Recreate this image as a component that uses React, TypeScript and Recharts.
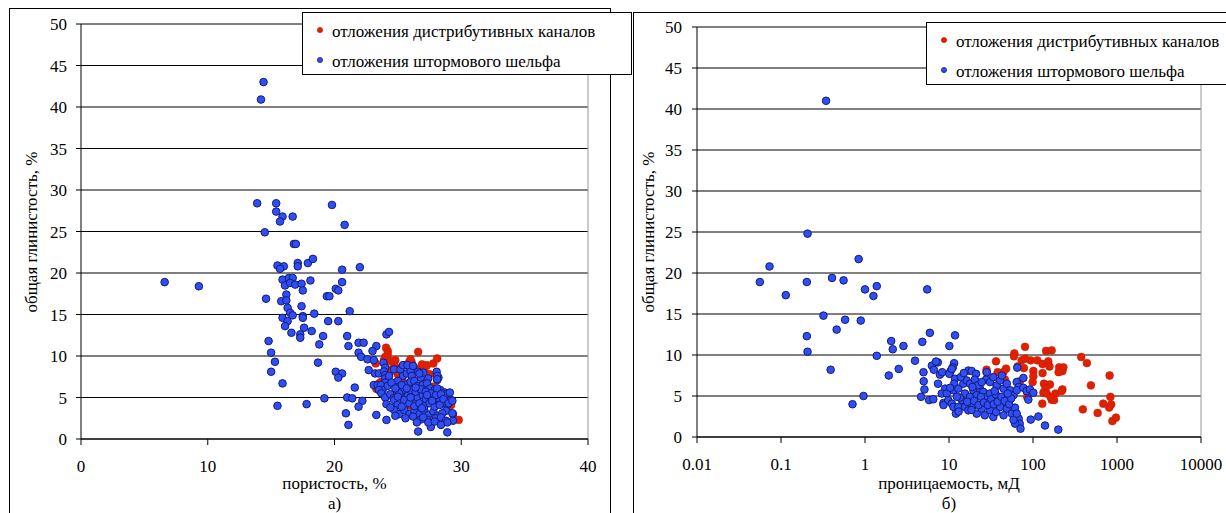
import React from 'react';
import { ScatterChart, Scatter, XAxis, YAxis, CartesianGrid, ReferenceLine } from 'recharts';

const FONT = '"Liberation Serif", Tinos, "Times New Roman", "DejaVu Serif", serif';

// а) пористость vs глинистость
const porosityChannels: number[][] = [
  [24.07, 11.0], [24.2, 10.6], [24.2, 10.2], [24.0, 9.9], [23.9, 9.5], [24.4, 9.4], [24.8, 9.5], [24.7, 9.3],
  [25.9, 9.3], [26.1, 9.2], [25.6, 8.9], [26.0, 9.6], [26.6, 10.5], [26.9, 8.6], [27.1, 8.3], [27.8, 9.1],
  [28.1, 9.7], [23.3, 6.05], [23.5, 6.7], [23.7, 6.9], [23.4, 6.3], [23.25, 9.1], [24.3, 7.5], [24.6, 8.5],
  [24.8, 8.7], [24.4, 8.1], [25.0, 7.8], [25.3, 7.2], [26.3, 8.6], [26.9, 9.0], [27.3, 8.9], [27.5, 7.8],
  [29.2, 4.1], [29.8, 2.3], [25.5, 6.4], [26.2, 6.2], [27.0, 6.8], [27.7, 6.3], [28.3, 5.7], [28.7, 4.6],
  [29.0, 3.6], [24.9, 5.3], [26.0, 4.0],
];

const porosityShelf: number[][] = [
  [14.4, 43.0], [14.2, 40.9], [13.9, 28.4], [15.4, 28.4], [15.4, 27.4], [15.9, 26.8], [15.7, 26.2], [16.7, 26.8],
  [19.8, 28.2], [20.8, 25.8], [14.5, 24.9], [16.8, 23.5], [16.95, 23.5], [15.5, 20.9], [16.0, 20.8], [15.7, 20.5],
  [17.1, 21.2], [17.1, 20.8], [17.9, 21.2], [18.3, 21.7], [20.6, 20.4], [22.0, 20.7], [6.6, 18.9], [9.3, 18.4],
  [15.9, 19.2], [16.4, 19.4], [16.7, 19.4], [16.1, 18.5], [16.5, 18.8], [16.9, 18.6], [17.4, 18.7], [18.1, 19.1],
  [20.6, 18.9], [20.1, 18.1], [20.3, 17.9], [17.5, 17.9], [16.2, 17.4], [19.4, 17.2], [19.6, 17.2], [14.6, 16.9],
  [15.8, 16.6], [16.2, 16.7], [17.4, 16.0], [16.3, 15.8], [16.5, 15.2], [16.7, 14.9], [17.5, 14.8], [17.5, 14.6],
  [18.4, 15.1], [21.2, 15.4], [15.9, 14.6], [16.3, 14.2], [19.5, 14.2], [20.3, 14.2], [16.1, 13.6], [17.6, 13.4],
  [18.2, 13.0], [16.6, 12.8], [17.3, 12.6], [17.3, 12.2], [19.1, 12.4], [21.0, 12.4], [14.8, 11.8], [21.9, 11.6],
  [22.3, 11.6], [18.8, 11.4], [21.1, 11.2], [23.3, 11.2], [23.0, 10.6], [15.0, 10.4], [21.9, 10.4], [22.1, 9.9],
  [22.6, 9.6], [23.1, 9.5], [15.3, 9.3], [18.7, 9.2], [15.0, 8.1], [20.1, 8.1], [20.6, 7.9], [20.3, 7.4],
  [22.7, 8.3], [23.2, 7.9], [23.5, 7.9], [15.9, 6.7], [21.6, 6.2], [23.1, 6.5], [23.4, 6.5], [15.5, 4.0],
  [17.8, 4.2], [19.2, 4.9], [21.0, 5.0], [21.4, 4.9], [22.2, 4.6], [21.9, 3.9], [20.9, 3.1], [23.3, 2.9],
  [21.1, 1.7], [24.1, 2.3], [24.1, 12.6], [24.3, 12.9],
  [23.86, 9.19], [24.0, 8.6], [23.9, 8.14], [24.0, 7.7], [24.0, 7.3], [24.0, 6.8], [23.65, 6.5], [23.8, 5.9],
  [24.2, 6.4], [23.5, 5.9], [23.7, 5.5], [24.0, 5.0], [24.1, 4.2], [24.4, 5.4], [24.65, 4.9], [24.7, 8.4],
  [25.2, 8.4], [25.4, 8.9], [25.4, 7.6], [25.0, 7.0], [25.7, 7.9], [26.0, 8.2], [26.1, 7.6], [26.6, 8.1],
  [26.8, 7.4], [27.0, 8.0], [27.4, 7.3], [28.06, 8.1], [28.2, 7.4], [28.1, 7.1], [25.1, 6.3], [25.4, 5.9],
  [25.8, 6.7], [26.0, 6.9], [26.3, 7.0], [26.55, 6.4], [26.95, 6.5], [27.3, 6.7], [27.55, 6.1], [27.9, 5.9],
  [28.35, 5.9], [28.7, 5.6], [28.9, 5.5], [29.2, 4.7], [28.9, 4.1], [28.8, 3.4], [24.7, 4.7], [24.97, 4.1],
  [25.4, 4.9], [25.76, 5.2], [26.2, 4.7], [26.55, 5.0], [26.95, 5.3], [27.2, 4.8], [27.55, 5.1], [27.9, 4.7],
  [28.27, 4.9], [28.5, 4.3], [24.7, 3.5], [25.1, 3.0], [25.5, 3.5], [25.9, 3.0], [26.3, 3.4], [26.7, 3.0],
  [27.1, 3.4], [27.4, 2.9], [27.8, 3.3], [28.1, 2.8], [28.5, 3.1], [25.6, 2.5], [26.2, 2.7], [26.8, 2.35],
  [27.35, 2.3], [28.0, 2.5], [28.4, 2.6], [28.8, 2.2], [25.1, 5.5], [25.5, 4.7], [25.9, 4.3], [26.3, 3.96],
  [26.7, 4.3], [27.1, 3.96], [27.5, 4.3], [27.9, 3.9], [28.3, 4.1], [26.0, 5.9], [26.4, 5.7], [26.8, 6.0],
  [27.2, 5.7], [27.6, 5.5], [28.0, 5.3], [25.76, 8.9], [26.2, 8.8], [26.7, 7.9], [26.6, 0.9], [28.9, 0.8],
  [27.6, 1.45], [29.35, 3.0], [29.35, 2.2], [28.9, 2.0], [24.4, 3.8], [24.8, 2.8], [25.3, 3.9], [25.3, 6.5],
  [25.7, 6.1], [26.0, 5.0], [26.4, 6.2], [26.9, 3.7], [27.3, 5.3], [27.7, 4.6], [28.1, 6.1], [28.4, 5.4],
  [28.6, 4.8], [29.0, 4.3], [29.3, 4.6], [27.0, 2.6], [26.5, 2.0], [27.4, 2.0], [27.9, 2.1], [24.3, 7.6],
  [24.5, 6.8], [24.8, 6.1], [25.0, 5.1], [29.1, 5.6], [28.4, 1.7], [28.1, 7.6], [28.1, 7.2], [29.3, 3.1],
];

// б) проницаемость vs глинистость
const permChannels: number[][] = [
  [80.4, 11.0], [60, 10.2], [59.4, 9.84], [143, 10.5], [167, 10.57], [36.3, 9.23], [73.3, 9.35], [80.4, 9.55],
  [93.7, 9.35], [112.6, 9.35], [130, 8.9], [152, 9.23], [157, 8.6], [65.8, 8.6], [78, 8.4], [47.8, 8.33],
  [44.4, 7.9], [38, 7.9], [28, 7.9], [101, 8.05], [130, 7.8], [46.4, 7.0], [101, 7.4], [99, 6.7],
  [205, 8.5], [230, 8.5], [224, 8.05], [202, 7.9], [135, 6.5], [159, 6.4], [141, 5.9], [133, 5.4],
  [146, 5.3], [185, 5.3], [224, 5.8], [219, 5.6], [167, 4.55], [178, 4.5], [162, 4.9], [129, 4.07],
  [36.9, 6.2], [375, 9.76], [438, 9.02], [489, 6.3], [392, 3.37], [588, 2.93], [685, 4.07], [817, 7.5],
  [834, 4.9], [853, 3.98], [808, 3.6], [881, 1.95], [972, 2.36], [28, 8.2], [70, 6.8], [85, 4.9],
];

const permShelf: number[][] = [
  [0.344, 41.0], [0.207, 24.8], [0.84, 21.7], [0.073, 20.8], [0.056, 18.9], [0.203, 18.9], [0.405, 19.4], [0.556, 19.1],
  [0.114, 17.3], [1.0, 18.0], [1.38, 18.4], [1.26, 17.2], [5.5, 18.0], [0.32, 14.8], [0.58, 14.3], [0.89, 14.2],
  [0.46, 13.1], [0.203, 12.3], [0.207, 10.4], [0.39, 8.2], [0.71, 4.0], [0.96, 5.0], [1.38, 9.9], [2.05, 11.7],
  [2.14, 10.7], [2.87, 11.1], [1.92, 7.5], [2.52, 8.3], [3.94, 9.3], [4.81, 11.6], [5.92, 12.7], [10.1, 11.1],
  [11.8, 12.4],
  [4.65, 4.9], [5.8, 4.5], [6.5, 4.6], [4.97, 7.9], [5.0, 6.8], [5.1, 5.8], [6.25, 8.7], [6.6, 8.2],
  [7.36, 9.1], [7.8, 7.6], [7.4, 6.5], [8.3, 7.9], [9.0, 5.9], [8.2, 5.3], [8.6, 4.15], [8.6, 3.9],
  [11.5, 9.0], [11.1, 8.5], [10.4, 8.0], [10.1, 7.7], [10.8, 8.3], [11.8, 7.1], [11.5, 6.5], [11.3, 5.7],
  [9.4, 5.3], [10.3, 6.0], [9.8, 4.5], [10.8, 4.07], [11.3, 3.66], [12.1, 2.85], [12.9, 3.66], [14.2, 4.5],
  [12.9, 5.9], [14.8, 6.5], [16.2, 6.9], [17.8, 6.5], [17.0, 8.1], [18.6, 8.05], [21, 7.7], [20.3, 7.0],
  [15.5, 5.3], [17.8, 4.9], [19.5, 5.7], [21.4, 5.1], [23.4, 5.9], [25.6, 5.5], [28.1, 4.9], [30.8, 5.3],
  [15.5, 3.66], [17, 3.25], [19.5, 3.86], [21.4, 2.85], [24.5, 3.46], [26.7, 2.65], [30.8, 3.25], [33.7, 2.44],
  [36.4, 3.05], [40.6, 3.66], [44.6, 2.65], [48.8, 3.46], [56, 2.85], [61, 3.58], [67.6, 2.24], [69.4, 1.63],
  [61.3, 1.63], [71, 1.02], [28.1, 7.9], [27.6, 7.0], [30.8, 6.7], [33.7, 7.3], [37, 6.3], [40.6, 6.9],
  [44.6, 5.9], [48.8, 6.5], [42.6, 7.5], [53.5, 5.7], [58.6, 5.1], [64, 6.7], [67.6, 6.1], [64, 5.7],
  [76.8, 6.0], [84, 5.6], [92, 5.8], [101, 5.4], [88, 4.56], [65, 8.46], [76.8, 7.2], [94, 2.12],
  [116, 2.5], [139, 1.4], [200, 0.9], [58.6, 2.1], [64, 2.85],
  [13.5, 4.8], [16.5, 4.3], [18.5, 3.3], [20, 4.4], [22.5, 3.9], [24, 4.9], [26, 4.2], [29, 3.9],
  [32, 4.6], [34, 4.0], [36, 5.2], [38, 4.3], [42, 4.9], [46, 4.4], [52, 4.0], [55, 4.7],
  [13.8, 7.3], [15, 7.8], [22, 6.3], [24.5, 6.7], [19, 6.1], [12.4, 4.9], [13, 3.1], [7, 9.2],
  [35, 5.6], [50, 5.3],
];

const clayTicks = [0, 5, 10, 15, 20, 25, 30, 35, 40, 45, 50];
const porosityTicks = [0, 10, 20, 30, 40];
const permTicks = [0.01, 0.1, 1, 10, 100, 1000, 10000];

const seriesNames = ['отложения дистрибутивных каналов', 'отложения штормового шельфа'];

const toPoints = (arr: number[][]) => arr.map(([x, y]) => ({ x, y }));

const RedDot = (props: any) => (
  <circle cx={props.cx} cy={props.cy} r={3.9} fill="#e02000" stroke="#c81e00" strokeWidth={0.6} />
);
const BlueDot = (props: any) => (
  <circle cx={props.cx} cy={props.cy} r={3.8} fill="#2f4ff2" stroke="#141a80" strokeWidth={1} />
);

const tickStyle = { fill: '#000', fontSize: 17, fontFamily: FONT };

function Legend({ left, top }: { left: number; top: number }) {
  return (
    <div
      style={{
        position: 'absolute', left, top, width: 330, height: 63,
        border: '1px solid #000', background: '#fff', boxSizing: 'border-box',
        fontFamily: FONT, fontSize: 17, color: '#000',
      }}
    >
      {seriesNames.map((n, i) => (
        <div key={n} style={{ position: 'absolute', left: 0, top: 9 + i * 30, height: 20, whiteSpace: 'nowrap' }}>
          <svg width={30} height={20} style={{ position: 'absolute', left: 0, top: 0 }}>
            <circle cx={17} cy={8} r={2.6} fill={i === 0 ? '#e02000' : '#2f4ff2'} stroke={i === 0 ? '#c81e00' : '#141a80'} strokeWidth={0.7} />
          </svg>
          <span style={{ position: 'absolute', left: 29, top: 0, lineHeight: '20px' }}>{n}</span>
        </div>
      ))}
    </div>
  );
}

function Caption({ x, y, text }: { x: number; y: number; text: string }) {
  return (
    <div style={{ position: 'absolute', left: x - 150, top: y - 8, width: 300, height: 16, lineHeight: '16px', textAlign: 'center', fontFamily: FONT, fontSize: 17, color: '#000', whiteSpace: 'nowrap' }}>
      {text}
    </div>
  );
}

function YTitle({ x, y }: { x: number; y: number }) {
  return (
    <div style={{ position: 'absolute', left: x - 120, top: y - 10, width: 240, height: 20, lineHeight: '20px', textAlign: 'center', transform: 'rotate(-90deg)', fontFamily: FONT, fontSize: 17, color: '#000', whiteSpace: 'nowrap' }}>
      общая глинистость, %
    </div>
  );
}

export default function App() {
  return (
    <div style={{ position: 'absolute', left: 0, top: 0, width: 1226, height: 513, overflow: 'hidden', background: '#fff', fontFamily: FONT }}>
      <div style={{ position: 'absolute', left: 9, top: 8, width: 600, height: 600, border: '1px solid #000' }} />
      <div style={{ position: 'absolute', left: 633, top: 12, width: 700, height: 600, border: '1px solid #000' }} />

      <div style={{ position: 'absolute', left: 0, top: 0 }}>
        <ScatterChart width={612} height={513} margin={{ top: 24, right: 24, bottom: 44, left: 31 }} style={{ fontFamily: FONT }}>
          <CartesianGrid horizontal vertical={false} stroke="#000" />
          <XAxis type="number" dataKey="x" domain={[0, 40]} ticks={porosityTicks} interval={0}
            axisLine={{ stroke: '#000' }} tickLine={{ stroke: '#000' }} tickSize={6} tickMargin={15} tick={tickStyle} />
          <YAxis type="number" dataKey="y" width={50} domain={[0, 50]} ticks={clayTicks} interval={0}
            axisLine={{ stroke: '#000' }} tickLine={{ stroke: '#000' }} tickSize={5} tickMargin={9} tick={tickStyle} />
          <ReferenceLine x={40} stroke="#999" />
          <Scatter name={seriesNames[0]} data={toPoints(porosityChannels)} shape={RedDot} isAnimationActive={false} />
          <Scatter name={seriesNames[1]} data={toPoints(porosityShelf)} shape={BlueDot} isAnimationActive={false} />
        </ScatterChart>
      </div>

      <div style={{ position: 'absolute', left: 612, top: 0 }}>
        <ScatterChart width={614} height={513} margin={{ top: 27, right: 25, bottom: 46, left: 35 }} style={{ fontFamily: FONT }}>
          <CartesianGrid horizontal vertical={false} stroke="#000" />
          <XAxis type="number" dataKey="x" scale="log" domain={[0.01, 10000]} ticks={permTicks} interval={0}
            tickFormatter={(v: number) => String(v)} allowDataOverflow
            axisLine={{ stroke: '#000' }} tickLine={{ stroke: '#000' }} tickSize={6} tickMargin={15} tick={tickStyle} />
          <YAxis type="number" dataKey="y" width={50} domain={[0, 50]} ticks={clayTicks} interval={0}
            axisLine={{ stroke: '#000' }} tickLine={{ stroke: '#000' }} tickSize={5} tickMargin={10} tick={tickStyle} />
          <ReferenceLine x={10000} stroke="#999" />
          <Scatter name={seriesNames[0]} data={toPoints(permChannels)} shape={RedDot} isAnimationActive={false} />
          <Scatter name={seriesNames[1]} data={toPoints(permShelf)} shape={BlueDot} isAnimationActive={false} />
        </ScatterChart>
      </div>

      <Legend left={302} top={12} />
      <Legend left={926} top={22} />

      <YTitle x={32} y={232} />
      <YTitle x={649} y={232} />
      <Caption x={334.5} y={484} text="пористость, %" />
      <Caption x={949} y={484} text="проницаемость, мД" />
      <Caption x={334.5} y={504} text="а)" />
      <Caption x={949} y={504} text="б)" />
    </div>
  );
}
